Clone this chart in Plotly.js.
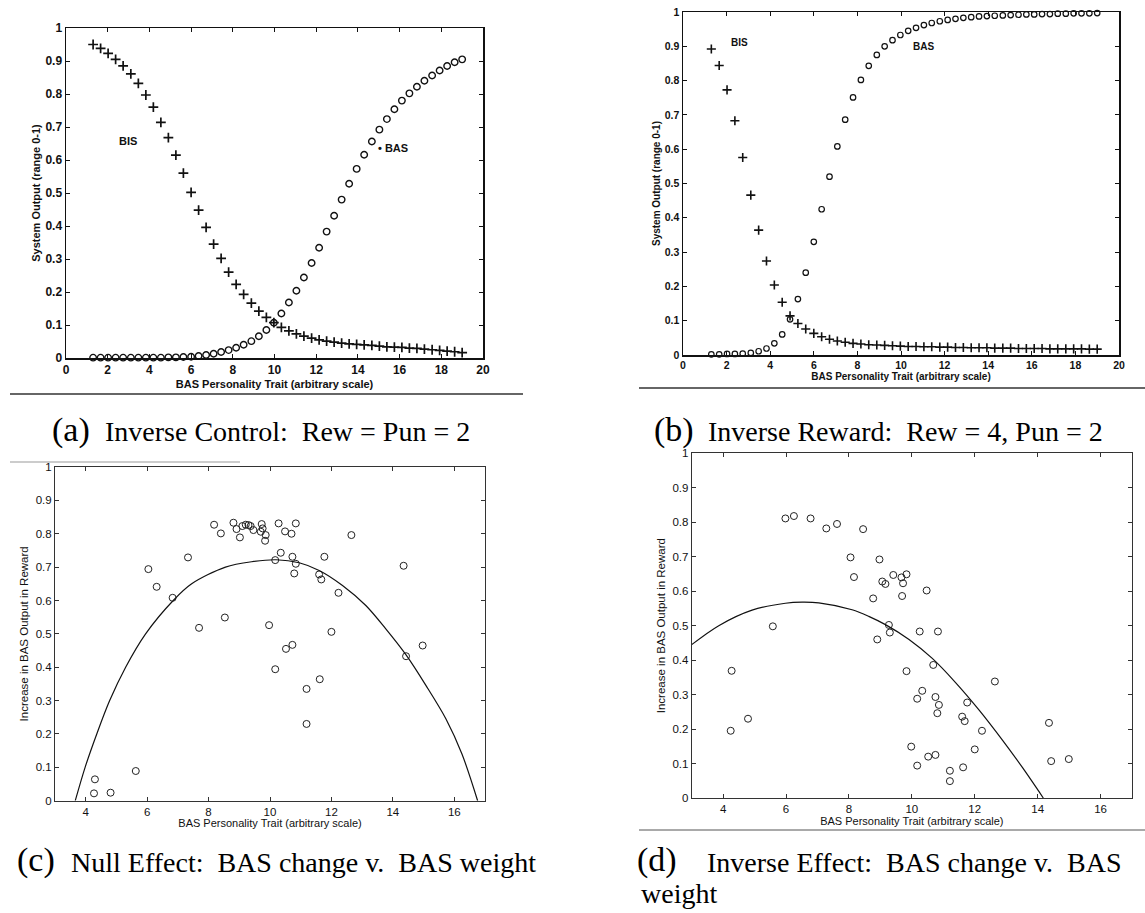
<!DOCTYPE html>
<html>
<head>
<meta charset="utf-8">
<script src="https://cdn.plot.ly/plotly-3.0.1.min.js"></script>
<style>
html,body{margin:0;padding:0;background:#ffffff;}
#chart{width:1145px;height:913px;}
</style>
</head>
<body>
<div id="chart"></div>
<script>
// ---------------- DATA ----------------
// shared trait grid for panels (a) and (b)
const traitGrid = [1.30,1.66,2.02,2.38,2.74,3.11,3.47,3.83,4.19,4.55,4.91,5.27,5.63,6.00,6.36,6.72,7.08,7.44,7.80,8.16,8.52,8.89,9.25,9.61,9.97,10.33,10.69,11.05,11.41,11.78,12.14,12.50,12.86,13.22,13.58,13.94,14.30,14.67,15.03,15.39,15.75,16.11,16.47,16.83,17.19,17.56,17.92,18.28,18.64,19.00];

// (a) Inverse Control
const bisA = [0.950,0.938,0.923,0.905,0.885,0.861,0.832,0.797,0.760,0.714,0.668,0.615,0.560,0.502,0.448,0.396,0.345,0.302,0.260,0.223,0.193,0.166,0.142,0.123,0.107,0.093,0.082,0.073,0.066,0.060,0.055,0.051,0.048,0.045,0.043,0.041,0.040,0.038,0.036,0.034,0.033,0.032,0.030,0.029,0.027,0.025,0.023,0.021,0.019,0.016];
const basA = [0.001,0.001,0.001,0.001,0.001,0.001,0.001,0.001,0.001,0.001,0.002,0.002,0.003,0.004,0.006,0.009,0.013,0.018,0.024,0.031,0.040,0.051,0.066,0.085,0.107,0.135,0.168,0.204,0.244,0.288,0.334,0.383,0.431,0.480,0.528,0.573,0.616,0.656,0.692,0.724,0.754,0.780,0.802,0.822,0.840,0.856,0.871,0.885,0.896,0.905];

// (b) Inverse Reward
const bisB = [0.892,0.844,0.773,0.683,0.576,0.466,0.364,0.274,0.204,0.154,0.114,0.092,0.076,0.063,0.053,0.046,0.041,0.037,0.034,0.032,0.030,0.029,0.028,0.027,0.026,0.025,0.025,0.024,0.024,0.023,0.023,0.022,0.022,0.021,0.021,0.021,0.020,0.020,0.020,0.019,0.019,0.019,0.019,0.018,0.018,0.018,0.018,0.018,0.017,0.017];
const basB = [0.002,0.002,0.003,0.003,0.004,0.006,0.011,0.019,0.034,0.060,0.104,0.163,0.240,0.330,0.425,0.520,0.608,0.686,0.751,0.802,0.843,0.875,0.900,0.918,0.933,0.945,0.954,0.962,0.968,0.973,0.977,0.980,0.983,0.985,0.987,0.988,0.989,0.990,0.991,0.992,0.993,0.993,0.994,0.994,0.995,0.995,0.996,0.996,0.996,0.997];

// (c) Null Effect: agents
const agentTraitC = [4.27,4.30,4.81,5.63,6.04,6.31,6.83,7.33,7.69,8.18,8.40,8.53,8.81,8.91,9.02,9.10,9.21,9.30,9.37,9.46,9.70,9.73,9.76,9.84,9.86,9.97,10.17,10.17,10.28,10.35,10.49,10.52,10.70,10.73,10.73,10.79,10.84,10.84,11.19,11.19,11.60,11.62,11.67,11.77,12.00,12.23,12.65,14.35,14.43,14.97];
const agentGainC  = [0.022,0.064,0.024,0.089,0.694,0.641,0.608,0.729,0.518,0.827,0.801,0.549,0.833,0.814,0.789,0.823,0.827,0.826,0.823,0.811,0.806,0.829,0.816,0.779,0.796,0.526,0.394,0.721,0.831,0.743,0.807,0.455,0.800,0.467,0.731,0.681,0.831,0.710,0.335,0.230,0.678,0.364,0.663,0.731,0.506,0.623,0.796,0.704,0.433,0.465];
const fitTraitC = [3.66,3.98,4.36,4.78,5.30,5.95,6.85,7.45,8.55,9.40,10.20,10.95,11.60,12.36,13.12,13.77,14.43,15.08,15.73,16.25,16.76];
const fitGainC  = [0.000,0.100,0.200,0.300,0.400,0.500,0.600,0.650,0.700,0.716,0.722,0.713,0.690,0.645,0.585,0.515,0.437,0.345,0.245,0.140,0.000];

// (d) Inverse Effect: agents
const agentTraitD = [4.24,4.27,4.79,5.58,5.98,6.25,6.78,7.28,7.62,8.05,8.16,8.45,8.77,8.90,8.97,9.06,9.16,9.27,9.30,9.41,9.67,9.69,9.72,9.83,9.83,9.98,10.17,10.17,10.25,10.33,10.47,10.52,10.68,10.75,10.75,10.81,10.83,10.86,11.21,11.21,11.60,11.63,11.68,11.76,12.00,12.23,12.64,14.36,14.43,14.99];
const agentGainD  = [0.195,0.369,0.230,0.498,0.811,0.818,0.811,0.782,0.795,0.698,0.641,0.780,0.579,0.460,0.692,0.628,0.621,0.502,0.480,0.647,0.640,0.586,0.623,0.649,0.368,0.149,0.288,0.094,0.483,0.311,0.602,0.120,0.386,0.293,0.125,0.246,0.483,0.270,0.079,0.049,0.236,0.089,0.223,0.277,0.141,0.195,0.338,0.218,0.107,0.113];
const fitTraitD = [3.00,3.86,4.92,5.98,6.51,7.04,8.10,8.63,9.16,9.91,10.65,11.39,12.14,12.88,13.52,14.18];
const fitGainD  = [0.445,0.500,0.545,0.565,0.568,0.566,0.546,0.527,0.503,0.460,0.405,0.335,0.255,0.168,0.088,0.000];

// tick values / labels
const xTicksAB = [0,2,4,6,8,10,12,14,16,18,20];
const xTicksCD = [4,6,8,10,12,14,16];
const yTicks = [0,0.1,0.2,0.3,0.4,0.5,0.6,0.7,0.8,0.9,1];
const yTickText = ['0','0.1','0.2','0.3','0.4','0.5','0.6','0.7','0.8','0.9','1'];

const xTitle = 'BAS Personality Trait (arbitrary scale)';
const yTitleAB = 'System Output (range 0-1)';
const yTitleCD = 'Increase in BAS Output in Reward';

// ---------------- LAYOUT HELPERS ----------------
const W = 1145, H = 913;
const dx = (a,b)=>[a/W, b/W];
const dy = (top,bottom)=>[1-bottom/H, 1-top/H];
const px = v=>v/W, py = v=>1-v/H;

const sans = 'Liberation Sans, Arial, Helvetica, sans-serif';
const serif = 'Liberation Serif, Times New Roman, serif';
const ink = '#111111';

function axis(o){
  return Object.assign({
    showline:true, mirror:'ticks', linecolor:ink, linewidth:1,
    ticks:'inside', ticklen:4, tickwidth:1, tickcolor:ink,
    showgrid:false, zeroline:false, fixedrange:true, automargin:false
  }, o);
}

const fontAB = {family:sans, size:12, color:ink, weight:'bold'};
const fontB  = {family:sans, size:10.5, color:ink, weight:'bold'};
const fontCD = {family:sans, size:11.5, color:ink};

const layout = {
  width:W, height:H,
  margin:{l:0,r:0,t:0,b:0},
  paper_bgcolor:'#ffffff', plot_bgcolor:'#ffffff',
  showlegend:false,
  xaxis: axis({domain:dx(66,483), anchor:'y', range:[0,20], tickvals:xTicksAB, linewidth:1.5, tickfont:fontAB,
    title:{text:xTitle, font:{family:sans,size:11,color:ink,weight:'bold'}, standoff:4}}),
  yaxis: axis({domain:dy(28,358), anchor:'x', range:[0,1], tickvals:yTicks, ticktext:yTickText, linewidth:1.5, tickfont:fontAB,
    title:{text:yTitleAB, font:{family:sans,size:11,color:ink,weight:'bold'}, standoff:2}}),
  xaxis2: axis({domain:dx(683,1119), anchor:'y2', range:[0,20], tickvals:xTicksAB, linewidth:1.5, tickfont:fontB,
    title:{text:xTitle, font:{family:sans,size:10,color:ink,weight:'bold'}, standoff:2}}),
  yaxis2: axis({domain:dy(12,355), anchor:'x2', range:[0,1], tickvals:yTicks, ticktext:yTickText, linewidth:1.5, tickfont:fontB,
    title:{text:yTitleAB, font:{family:sans,size:10,color:ink,weight:'bold'}, standoff:2}}),
  xaxis3: axis({domain:dx(55,485), anchor:'y3', range:[3,17], tickvals:xTicksCD, linecolor:'#333', tickcolor:'#333', tickfont:fontCD,
    title:{text:xTitle, font:{family:sans,size:11,color:ink}, standoff:2}}),
  yaxis3: axis({domain:dy(467,800.7), anchor:'x3', range:[0,1], tickvals:yTicks, ticktext:yTickText, linecolor:'#333', tickcolor:'#333', tickfont:fontCD,
    title:{text:yTitleCD, font:{family:sans,size:11.5,color:ink}, standoff:4}}),
  xaxis4: axis({domain:dx(691.7,1132), anchor:'y4', range:[3,17], tickvals:xTicksCD, linecolor:'#333', tickcolor:'#333', tickfont:fontCD,
    title:{text:xTitle, font:{family:sans,size:11,color:ink}, standoff:2}}),
  yaxis4: axis({domain:dy(453.3,798), anchor:'x4', range:[0,1], tickvals:yTicks, ticktext:yTickText, linecolor:'#333', tickcolor:'#333', tickfont:fontCD,
    title:{text:yTitleCD, font:{family:sans,size:11.5,color:ink}, standoff:4}}),
  shapes:[
    {type:'line', xref:'paper', yref:'paper', x0:px(10), x1:px(523), y0:py(394), y1:py(394), line:{color:'#333', width:1.5}},
    {type:'line', xref:'paper', yref:'paper', x0:px(639), x1:px(1145), y0:py(388), y1:py(388), line:{color:'#333', width:1.5}},
    {type:'line', xref:'paper', yref:'paper', x0:px(10), x1:px(240), y0:py(462), y1:py(462), line:{color:'#999', width:1}},
    {type:'line', xref:'paper', yref:'paper', x0:px(639), x1:px(1145), y0:py(830), y1:py(830), line:{color:'#555', width:1}}
  ],
  annotations:[
    // in-plot labels
    {xref:'x', yref:'y', x:2.96, y:0.658, text:'BIS', showarrow:false, font:{family:sans,size:11,color:ink,weight:'bold'}},
    {xref:'x', yref:'y', x:14.85, y:0.635, xanchor:'left', text:'\u2022 BAS', showarrow:false, font:{family:sans,size:11,color:ink,weight:'bold'}},
    {xref:'x2', yref:'y2', x:2.61, y:0.91, text:'BIS', showarrow:false, font:{family:sans,size:10,color:ink,weight:'bold'}},
    {xref:'x2', yref:'y2', x:11.03, y:0.899, text:'BAS', showarrow:false, font:{family:sans,size:10,color:ink,weight:'bold'}},
    // captions
    {xref:'paper', yref:'paper', x:px(50), y:py(430), xanchor:'left', yanchor:'middle', text:'(a)', showarrow:false, font:{family:serif,size:34,color:'#000'}},
    {xref:'paper', yref:'paper', x:px(103), y:py(432), xanchor:'left', yanchor:'middle', text:'Inverse Control:\u00A0 Rew = Pun = 2', showarrow:false, font:{family:serif,size:28,color:'#000'}},
    {xref:'paper', yref:'paper', x:px(652), y:py(430), xanchor:'left', yanchor:'middle', text:'(b)', showarrow:false, font:{family:serif,size:34,color:'#000'}},
    {xref:'paper', yref:'paper', x:px(706), y:py(432), xanchor:'left', yanchor:'middle', text:'Inverse Reward:\u00A0 Rew = 4, Pun = 2', showarrow:false, font:{family:serif,size:28,color:'#000'}},
    {xref:'paper', yref:'paper', x:px(15), y:py(860), xanchor:'left', yanchor:'middle', text:'(c)', showarrow:false, font:{family:serif,size:34,color:'#000'}},
    {xref:'paper', yref:'paper', x:px(69), y:py(862), xanchor:'left', yanchor:'middle', text:'Null Effect:\u00A0 BAS change v.\u00A0 BAS weight', showarrow:false, font:{family:serif,size:28,color:'#000'}},
    {xref:'paper', yref:'paper', x:px(635), y:py(860), xanchor:'left', yanchor:'middle', text:'(d)', showarrow:false, font:{family:serif,size:34,color:'#000'}},
    {xref:'paper', yref:'paper', x:px(705), y:py(862), xanchor:'left', yanchor:'middle', text:'Inverse Effect:\u00A0 BAS change v.\u00A0 BAS', showarrow:false, font:{family:serif,size:28,color:'#000'}},
    {xref:'paper', yref:'paper', x:px(639), y:py(893), xanchor:'left', yanchor:'middle', text:'weight', showarrow:false, font:{family:serif,size:28,color:'#000'}}
  ]
};

const crossA = {symbol:'cross-thin-open', size:7, color:ink, line:{width:1.7, color:ink}};
const circA  = {symbol:'circle-open', size:6.5, color:ink, line:{width:1.4, color:ink}};
const crossB = {symbol:'cross-thin-open', size:6.5, color:ink, line:{width:1.6, color:ink}};
const circB  = {symbol:'circle-open', size:5.5, color:ink, line:{width:1.2, color:ink}};
const circCD = {symbol:'circle-open', size:7, color:'#222', line:{width:1, color:'#222'}};

const data = [
  {x:traitGrid, y:bisA, xaxis:'x', yaxis:'y', mode:'markers', marker:crossA, cliponaxis:false, name:'BIS'},
  {x:traitGrid, y:basA, xaxis:'x', yaxis:'y', mode:'markers', marker:circA, cliponaxis:false, name:'BAS'},
  {x:traitGrid, y:bisB, xaxis:'x2', yaxis:'y2', mode:'markers', marker:crossB, cliponaxis:false, name:'BIS'},
  {x:traitGrid, y:basB, xaxis:'x2', yaxis:'y2', mode:'markers', marker:circB, cliponaxis:false, name:'BAS'},
  {x:agentTraitC, y:agentGainC, xaxis:'x3', yaxis:'y3', mode:'markers', marker:circCD, cliponaxis:false, name:'agents'},
  {x:fitTraitC, y:fitGainC, xaxis:'x3', yaxis:'y3', mode:'lines', line:{color:'#111', width:1.2, shape:'spline', smoothing:0.9}, name:'fit'},
  {x:agentTraitD, y:agentGainD, xaxis:'x4', yaxis:'y4', mode:'markers', marker:circCD, cliponaxis:false, name:'agents'},
  {x:fitTraitD, y:fitGainD, xaxis:'x4', yaxis:'y4', mode:'lines', line:{color:'#111', width:1.2, shape:'spline', smoothing:0.9}, name:'fit'}
];

Plotly.newPlot('chart', data, layout, {displayModeBar:false, staticPlot:true});
</script>
</body>
</html>
